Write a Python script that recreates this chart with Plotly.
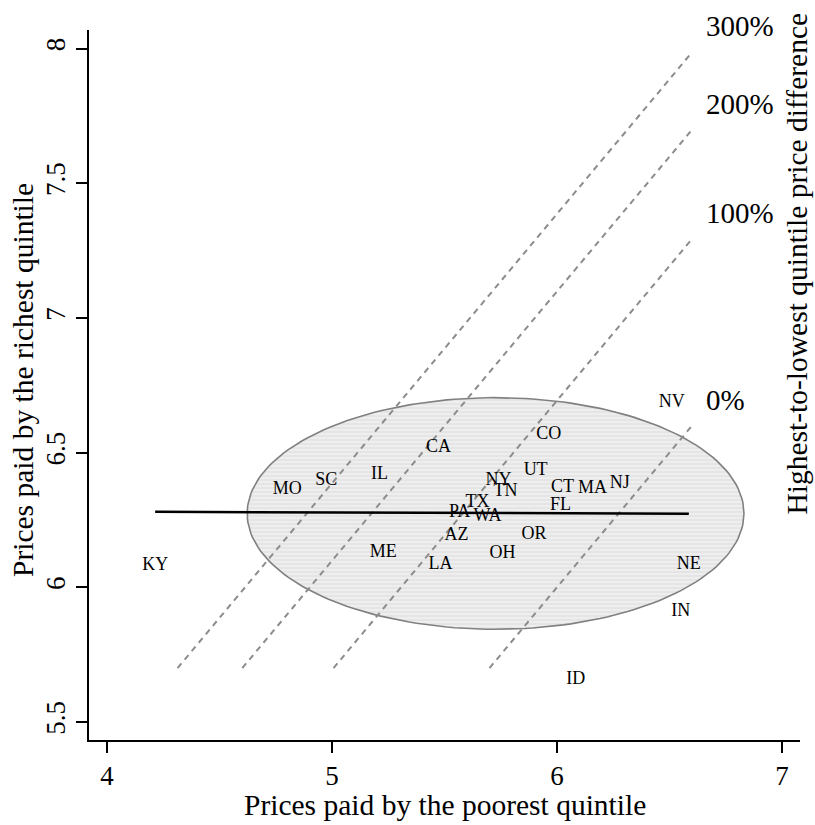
import numpy as np
import plotly.graph_objects as go

# ---- data ----
states = ["KY", "MO", "SC", "IL", "CA", "ME", "LA", "AZ", "PA", "TX", "WA", "NY", "TN",
          "UT", "CO", "OH", "OR", "CT", "FL", "MA", "NJ", "NV", "NE", "IN", "ID"]
poorest = [4.214, 4.801, 4.975, 5.211, 5.473, 5.228, 5.482, 5.553, 5.567, 5.647, 5.691, 5.740, 5.771,
           5.905, 5.963, 5.758, 5.898, 6.025, 6.016, 6.158, 6.279, 6.510, 6.586, 6.550, 6.083]
richest = [6.081, 6.363, 6.396, 6.419, 6.519, 6.130, 6.085, 6.193, 6.278, 6.315, 6.263, 6.396, 6.356,
           6.433, 6.567, 6.126, 6.196, 6.370, 6.304, 6.367, 6.385, 6.685, 6.085, 5.911, 5.659]

pct_labels = ["0%", "100%", "200%", "300%"]
pct_values = [0, 100, 200, 300]
ref_low_y = 5.7
ref_high_x = 6.6

fit_x = [4.214, 6.586]
fit_y = [6.280, 6.273]

ell_center = (5.727, 6.274)
ell_axes = (1.104, 0.430)

x_ticks = [4, 5, 6, 7]
y_ticks = [5.5, 6, 6.5, 7, 7.5, 8]
y_tick_text = ["5.5", "6", "6.5", "7", "7.5", "8"]

FONT = "Liberation Serif"

fig = go.Figure()

# ellipse
t = np.linspace(0, 2 * np.pi, 200)
ex = ell_center[0] + ell_axes[0] * np.cos(t)
ey = ell_center[1] + ell_axes[1] * np.sin(t)
fig.add_trace(go.Scatter(
    x=ex, y=ey, mode="lines", fill="toself",
    fillcolor="#eeeeee",
    fillpattern=dict(shape="-", bgcolor="#eeeeee", fgcolor="#d0d0d0", size=4, solidity=0.3),
    line=dict(color="#808080", width=1.6), hoverinfo="skip", showlegend=False))

# reference lines
for lab, p in zip(pct_labels, pct_values):
    c = np.log(1 + p / 100.0)
    x0 = ref_low_y - c
    fig.add_trace(go.Scatter(
        x=[x0, ref_high_x], y=[ref_low_y, ref_high_x + c], mode="lines",
        line=dict(color="#8c8c8c", width=2, dash="6px,5px"),
        hoverinfo="skip", showlegend=False))
    fig.add_annotation(x=ref_high_x, y=ref_high_x + c, xshift=12, yshift=26, text=lab,
                       showarrow=False, xanchor="left", yanchor="middle",
                       font=dict(family=FONT, size=29, color="black"))

# fit line
fig.add_trace(go.Scatter(x=fit_x, y=fit_y, mode="lines",
                         line=dict(color="black", width=2.5),
                         hoverinfo="skip", showlegend=False))

# state labels
fig.add_trace(go.Scatter(x=poorest, y=richest, mode="text", text=states,
                         textposition="middle center",
                         textfont=dict(family=FONT, size=18, color="black"),
                         showlegend=False))

fig.update_layout(
    width=815, height=825,
    margin=dict(l=89, r=15, t=30, b=85),
    plot_bgcolor="white", paper_bgcolor="white",
    font=dict(family=FONT, size=28, color="black"),
    xaxis=dict(range=[3.92, 7.08], tickvals=x_ticks, showgrid=False, zeroline=False,
               showline=True, linecolor="black", linewidth=1.5,
               ticks="outside", ticklen=11, tickwidth=1.5, tickcolor="black",
               tickfont=dict(family=FONT, size=27)),
    yaxis=dict(range=[5.433, 8.069], tickvals=y_ticks, ticktext=y_tick_text, tickangle=-90,
               showgrid=False, zeroline=False,
               showline=True, linecolor="black", linewidth=1.5,
               ticks="outside", ticklen=11, tickwidth=1.5, tickcolor="black",
               tickfont=dict(family=FONT, size=27)),
)

fig.add_annotation(xref="paper", yref="paper", x=0.5, y=0, yshift=-65,
                   text="Prices paid by the poorest quintile", showarrow=False,
                   xanchor="center", yanchor="middle",
                   font=dict(family=FONT, size=29.5))
fig.add_annotation(xref="paper", yref="paper", x=0, xshift=-66, y=(740 - 380) / 710,
                   text="Prices paid by the richest quintile", showarrow=False, textangle=-90,
                   xanchor="center", yanchor="middle",
                   font=dict(family=FONT, size=29.5))
fig.add_annotation(xref="paper", yref="paper", x=1, xshift=-4, y=(740 - 263.5) / 710,
                   text="Highest-to-lowest quintile price difference", showarrow=False, textangle=-90,
                   xanchor="center", yanchor="middle",
                   font=dict(family=FONT, size=29.5))

fig.write_html("out.html")
